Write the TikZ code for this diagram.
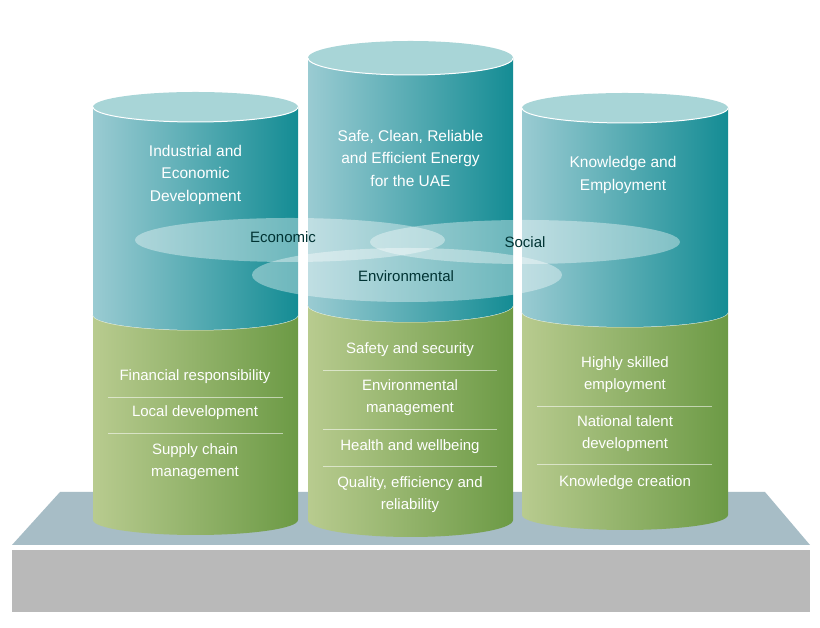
\documentclass[tikz,border=0pt]{standalone}
\usepackage{fontspec}
\setmainfont{Liberation Sans}
\begin{document}
\begin{tikzpicture}[x=1pt,y=1pt,
  ttl/.style={text=white,align=center,font=\fontsize{15.5}{22.5}\selectfont},
  itm/.style={text=white,align=center,font=\fontsize{15}{22}\selectfont},
  lbl/.style={text=black!60!teal,font=\fontsize{15}{18}\selectfont},
  dv/.style={white,opacity=0.55,line width=0.8pt},
  ov/.style={fill=white,fill opacity=0.38}]
\definecolor{tL}{HTML}{9ACBD2}\definecolor{tR}{HTML}{148C94}
\definecolor{gL}{HTML}{B8CB8F}\definecolor{gR}{HTML}{6C9A45}
\definecolor{topc}{HTML}{A8D5D7}
\definecolor{slab}{HTML}{A7BDC6}
\useasboundingbox (0,0) rectangle (820,628);
\fill[white] (0,0) rectangle (820,628);
\fill[gray!55!white] (12,16) rectangle (810,78);
\fill[slab] (60,136) -- (765,136) -- (810,83) -- (12,83) -- cycle;
\foreach \cx/\rx/\ry/\tp/\md/\bt in {195.5/102.5/15/521/313/108, 410.5/102.5/17/570/323/108, 625/103/15/520/316/113}{
  \shade[left color=gL,right color=gR] (\cx-\rx,\md) arc[start angle=180,end angle=360,x radius=\rx,y radius=\ry] -- (\cx+\rx,\bt) arc[start angle=0,end angle=-180,x radius=\rx,y radius=\ry] -- cycle;
  \draw[white!70!gL,line width=1pt] (\cx-\rx,\md) arc[start angle=180,end angle=360,x radius=\rx,y radius=\ry];
  \shade[left color=tL,right color=tR] (\cx-\rx,\tp) -- (\cx-\rx,\md) arc[start angle=180,end angle=360,x radius=\rx,y radius=\ry] -- (\cx+\rx,\tp) -- cycle;
  \fill[topc] (\cx,\tp) ellipse[x radius=\rx,y radius=\ry];
  \draw[white,line width=1pt] (\cx-\rx,\tp) arc[start angle=180,end angle=360,x radius=\rx,y radius=\ry];
}
\path[ov] (290,388) ellipse[x radius=155,y radius=22];
\path[ov] (525,386) ellipse[x radius=155,y radius=22];
\path[ov] (407,353) ellipse[x radius=155,y radius=27];
\node[lbl] (eco) at (283,391) {Economic};
\node[lbl] (soc) at (525,386) {Social};
\node[lbl] (env) at (406,352) {Environmental};
\node[ttl] (t1) at (195.5,453) {Industrial and\\Economic\\Development};
\node[ttl] (t2) at (410.5,470) {Safe, Clean, Reliable\\and Efficient Energy\\for the UAE};
\node[ttl] (t3) at (623,453) {Knowledge and\\Employment};
\node[itm] (a1) at (195,251) {Financial responsibility};
\draw[dv] (108,231) -- (283,231);
\node[itm] (a2) at (195,215) {Local development};
\draw[dv] (108,195) -- (283,195);
\node[itm] (a3) at (195,166) {Supply chain\\management};
\node[itm] (b1) at (410,278) {Safety and security};
\draw[dv] (323,258) -- (497,258);
\node[itm] (b2) at (410,230) {Environmental\\management};
\draw[dv] (323,199) -- (497,199);
\node[itm] (b3) at (410,181) {Health and wellbeing};
\draw[dv] (323,162) -- (497,162);
\node[itm] (b4) at (410,133) {Quality, efficiency and\\reliability};
\node[itm] (c1) at (625,253) {Highly skilled\\employment};
\draw[dv] (537,222) -- (712,222);
\node[itm] (c2) at (625,194) {National talent\\development};
\draw[dv] (537,164) -- (712,164);
\node[itm] (c3) at (625,145) {Knowledge creation};
\end{tikzpicture}
\end{document}
